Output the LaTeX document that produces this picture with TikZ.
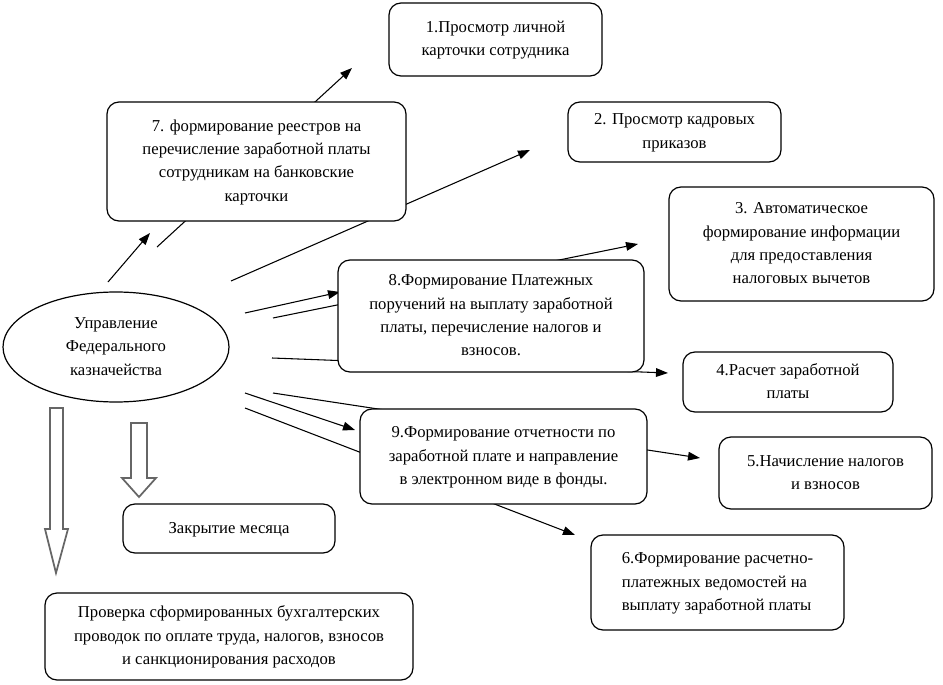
\documentclass[tikz,border=0pt]{standalone}
\usepackage{fontspec}
\setmainfont{Liberation Serif}
\newfontfamily\rusfont[Script=Cyrillic]{Liberation Serif}
\usetikzlibrary{arrows.meta,shapes.geometric}
\newcommand\blk[2][c]{\rusfont\fontsize{12.5}{17.5}\selectfont
    \begin{tabular}{@{}#1@{}}#2\end{tabular}}

\begin{document}
\begin{tikzpicture}[
    x=0.75pt, y=-0.75pt,
    >={Triangle[length=9pt,width=6.5pt]},
    blok/.style={draw, line width=0.9pt, rounded corners=9pt, fill=white,
        inner sep=0pt},
    strelka/.style={->, line width=0.8pt},
    polaya/.style={draw=black!60, line width=1.3pt, fill=white, line join=miter}
]
\useasboundingbox (0,0) rectangle (943,685);

% начала и концы стрелок
\coordinate (s1) at (157,247); \coordinate (e1) at (352,68);
\coordinate (s2) at (231,281); \coordinate (e2) at (530,150);
\coordinate (s3) at (273,318); \coordinate (e3) at (638,244);
\coordinate (s4) at (272,358); \coordinate (e4) at (668,373);
\coordinate (s5) at (273,393); \coordinate (e5) at (700,458);
\coordinate (s6) at (245,408); \coordinate (e6) at (575,535);
\coordinate (s7) at (108,282); \coordinate (e7) at (150,233);
\coordinate (s8) at (245,313); \coordinate (e8) at (340,292);
\coordinate (s9) at (245,393); \coordinate (e9) at (355,430);

% стрелки к блокам 1-6 (идут под блоками 7-9)
\draw[strelka] (s1) -- (e1);
\draw[strelka] (s2) -- (e2);
\draw[strelka] (s3) -- (e3);
\draw[strelka] (s4) -- (e4);
\draw[strelka] (s5) -- (e5);
\draw[strelka] (s6) -- (e6);

% стрелки к блокам 7-9
\draw[strelka] (s7) -- (e7);
\draw[strelka] (s8) -- (e8);
\draw[strelka] (s9) -- (e9);

% полые стрелки вниз
\draw[polaya] (50,408) -- (63,408) -- (63,529) -- (68,529) -- (56,573)
    -- (45,529) -- (50,529) -- cycle;
\draw[polaya] (131,423) -- (147,423) -- (147,478) -- (156,478) -- (139,497)
    -- (122,478) -- (131,478) -- cycle;

% центр
\node[blok, ellipse, minimum width=169.5pt, minimum height=82.5pt] (ufk) at (116,347)
    {\blk{Управление\\Федерального\\казначейства}};

% блоки
\node[blok, minimum width=159.75pt, minimum height=54.75pt] (b1) at (495.5,39.5)
    {\blk{1.Просмотр личной\\карточки сотрудника}};
\node[blok, minimum width=159.75pt, minimum height=45pt] (b2) at (674.5,132)
    {\blk{2. Просмотр кадровых\\приказов}};
\node[blok, minimum width=198.75pt, minimum height=85.5pt] (b3) at (801.5,244)
    {\blk{3. Автоматическое\\формирование информации\\для предоставления\\налоговых вычетов}};
\node[blok, minimum width=157.5pt, minimum height=45pt] (b4) at (788,382)
    {\blk{4.Расчет заработной\\платы}};
\node[blok, minimum width=159.75pt, minimum height=54pt] (b5) at (825.5,473)
    {\blk{5.Начисление налогов\\и взносов}};
\node[blok, minimum width=189.75pt, minimum height=71.25pt] (b6) at (717.5,582.5)
    {\blk[l]{6.Формирование расчетно-\\платежных ведомостей на\\выплату заработной платы}};
\node[blok, minimum width=224.25pt, minimum height=89.25pt] (b7) at (256.5,161.5)
    {\blk{7. формирование реестров на\\перечисление заработной платы\\сотрудникам на банковские\\карточки}};
\node[blok, minimum width=229.5pt, minimum height=84pt] (b8) at (491,316)
    {\blk{8.Формирование Платежных\\поручений на выплату заработной\\платы, перечисление налогов и\\взносов.}};
\node[blok, minimum width=215.25pt, minimum height=71.25pt] (b9) at (503.5,456.5)
    {\blk{9.Формирование отчетности по\\заработной плате и направление\\в электронном виде в фонды.}};
\node[blok, minimum width=159pt, minimum height=36.75pt] (zakr) at (229,528.5)
    {\blk{Закрытие месяца}};
\node[blok, minimum width=276pt, minimum height=65.25pt] (prov) at (229,636.5)
    {\blk{Проверка сформированных бухгалтерских\\проводок по оплате труда, налогов, взносов\\и санкционирования расходов}};

\end{tikzpicture}
\end{document}
